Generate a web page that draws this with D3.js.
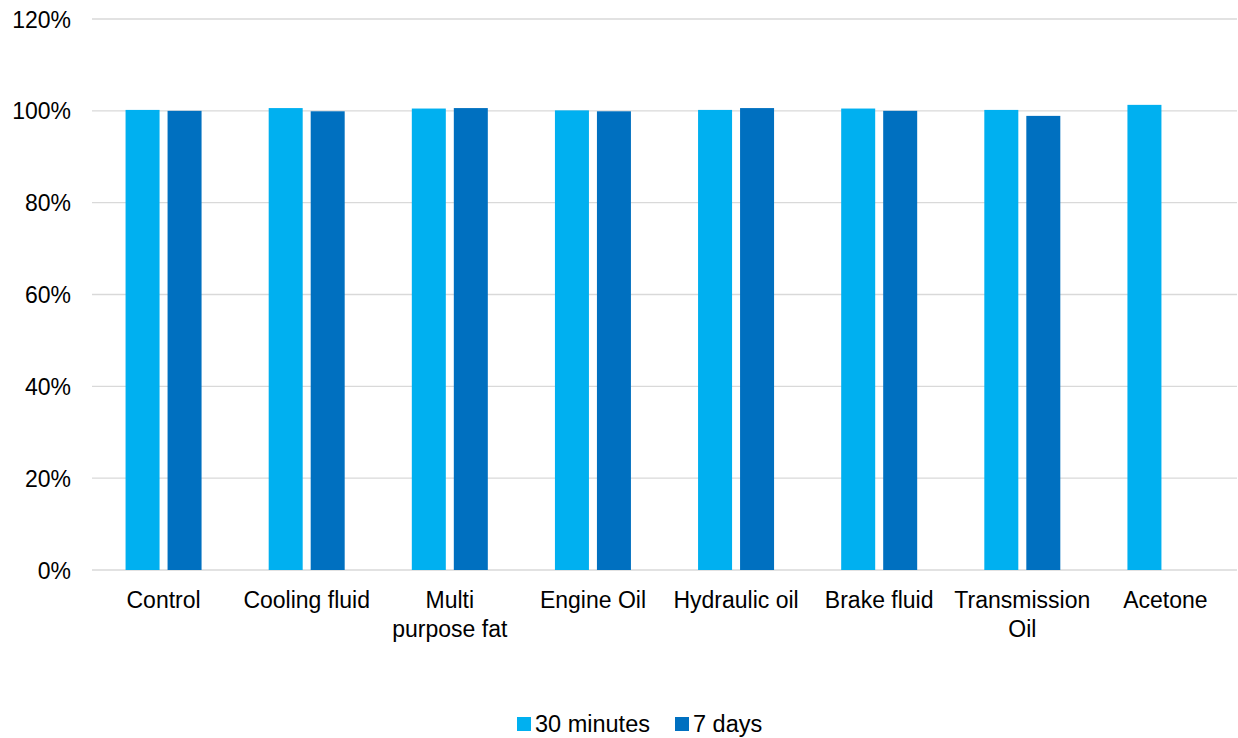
<!DOCTYPE html>
<html>
<head>
<meta charset="utf-8">
<script src="https://cdn.jsdelivr.net/npm/d3@7"></script>
<style>
  body { margin: 0; background: #fff; }
  text { font-family: "Liberation Sans", Arial, sans-serif; fill: #000; }
</style>
</head>
<body>
<div id="mainDiv"></div>
<script>
var categories = [["Control"], ["Cooling fluid"], ["Multi", "purpose fat"], ["Engine Oil"],
    ["Hydraulic oil"], ["Brake fluid"], ["Transmission", "Oil"], ["Acetone"]];
var seriesNames = ["30 minutes", "7 days"];
var minutes30 = [100.2, 100.6, 100.5, 100.1, 100.2, 100.5, 100.2, 101.3];
var days7 = [100.0, 99.9, 100.6, 99.9, 100.6, 100.0, 98.9, null];
var yTicks = [0, 20, 40, 60, 80, 100, 120];
var colors = ["#00B0F0", "#0070C0"];

var width = 1238, height = 738;
var svg = d3.select("#mainDiv").append("svg")
    .attr("width", width)
    .attr("height", height);

var plotLeft = 92, plotRight = 1237, plotTop = 19, plotBottom = 570;

var x = d3.scaleBand().domain(d3.range(categories.length)).range([plotLeft, plotRight]).padding(0);
var y = d3.scaleLinear().domain([0, 120]).range([plotBottom, plotTop]);

// gridlines
svg.append("g").selectAll("line").data(yTicks).enter().append("line")
    .attr("x1", plotLeft).attr("x2", plotRight)
    .attr("y1", function(d) { return y(d); }).attr("y2", function(d) { return y(d); })
    .attr("stroke", "#d9d9d9").attr("stroke-width", 1.3);

// y labels
var yAxis = d3.axisLeft(y).tickValues(yTicks).tickFormat(function(d) { return d + "%"; }).tickSize(0).tickPadding(0);
var yg = svg.append("g").attr("transform", "translate(71,0)").call(yAxis);
yg.select(".domain").remove();
yg.selectAll("text").attr("font-size", "23px").attr("fill", "#000")
    .style("font-family", "Liberation Sans, Arial, sans-serif").attr("dy", "0.35em");

// bars
var barW = 34, gap = 8;
var series = [minutes30, days7];
series.forEach(function(vals, s) {
    var data = vals.map(function(v, i) { return { i: i, v: v }; }).filter(function(d) { return d.v !== null; });
    svg.append("g").selectAll("rect").data(data).enter().append("rect")
        .attr("x", function(d) {
            var c = x(d.i) + x.bandwidth() / 2;
            return s === 0 ? c - gap / 2 - barW : c + gap / 2;
        })
        .attr("y", function(d) { return y(d.v); })
        .attr("width", barW)
        .attr("height", function(d) { return y(0) - y(d.v); })
        .attr("fill", colors[s]);
});

// category labels
var cat = svg.append("g").selectAll("text").data(categories).enter().append("text")
    .attr("x", function(d, i) { return x(i) + x.bandwidth() / 2; })
    .attr("y", 608)
    .attr("text-anchor", "middle")
    .attr("font-size", "23px");
cat.each(function(lines) {
    var t = d3.select(this);
    lines.forEach(function(l, k) {
        t.append("tspan").attr("x", t.attr("x")).attr("dy", k === 0 ? 0 : 29).text(l);
    });
});

// legend
var legendX = [517, 675];
seriesNames.forEach(function(name, s) {
    svg.append("rect").attr("x", legendX[s]).attr("y", 717).attr("width", 14).attr("height", 14).attr("fill", colors[s]);
    svg.append("text").attr("x", legendX[s] + 18).attr("y", 732).attr("font-size", "23.5px").text(name);
});
</script>
</body>
</html>
